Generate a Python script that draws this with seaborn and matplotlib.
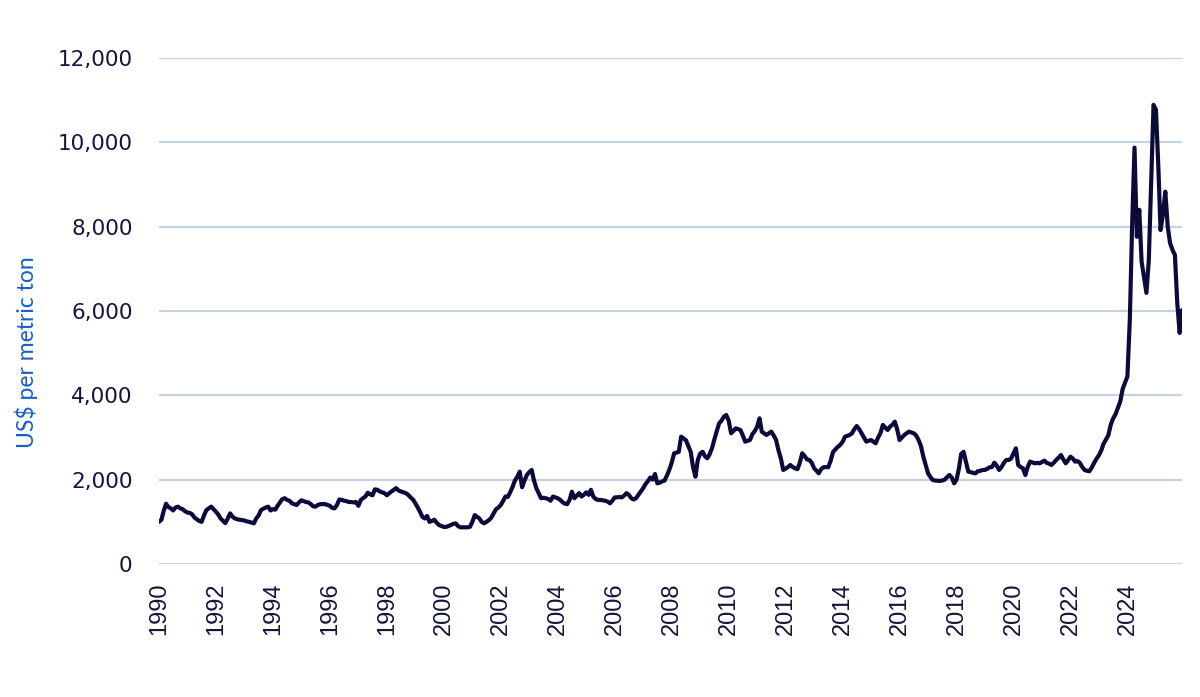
import pandas as pd
import numpy as np
import seaborn as sns
import matplotlib.pyplot as plt
import matplotlib.dates as mdates
from matplotlib.ticker import FuncFormatter

# monthly cocoa price, US$ per metric ton
price_1990s = [
    1000, 1050, 1250, 1430, 1350, 1320, 1270, 1340, 1360, 1320, 1300, 1250,
    1220, 1210, 1180, 1100, 1060, 1020, 1000, 1150, 1280, 1320, 1360, 1300,
    1240, 1170, 1080, 1020, 970, 1080, 1200, 1120, 1080, 1060, 1050, 1040,
    1030, 1010, 1000, 980, 965, 1080, 1150, 1280, 1310, 1340, 1360, 1270,
    1300, 1290, 1380, 1460, 1540, 1560, 1520, 1500, 1440, 1420, 1400, 1460,
    1510, 1490, 1470, 1460, 1420, 1370, 1360, 1400, 1420, 1420, 1420, 1400,
    1380, 1330, 1320, 1400, 1530, 1520, 1500, 1490, 1470, 1470, 1460, 1470,
    1380, 1520, 1560, 1600, 1690, 1650, 1630, 1770, 1760, 1720, 1700, 1680,
    1630, 1680, 1720, 1760, 1800, 1740, 1720, 1700, 1680, 1640, 1580, 1530,
    1440, 1340, 1240, 1120, 1080, 1140, 1000, 1020, 1050, 980, 925, 900,
]
price_2000s = [
    880, 880, 900, 925, 950, 965, 900, 870, 870, 870, 870, 880,
    1000, 1160, 1120, 1080, 1000, 965, 1000, 1040, 1100, 1200, 1300, 1340,
    1400, 1500, 1600, 1590, 1700, 1830, 1980, 2070, 2190, 1820, 1980, 2110,
    2180, 2230, 1990, 1800, 1680, 1560, 1570, 1560, 1540, 1500, 1600, 1580,
    1560, 1520, 1470, 1430, 1420, 1520, 1715, 1560, 1620, 1680, 1600, 1640,
    1700, 1640, 1760, 1600, 1540, 1520, 1520, 1510, 1500, 1480, 1440, 1500,
    1580, 1580, 1590, 1580, 1620, 1680, 1640, 1560, 1530, 1560, 1640, 1720,
    1800, 1900, 1960, 2050, 2000, 2135, 1913, 1930, 1960, 1976, 2100, 2230,
    2400, 2625, 2640, 2660, 3020, 2980, 2940, 2800, 2660, 2300, 2070, 2467,
    2620, 2660, 2560, 2507, 2600, 2744, 2950, 3150, 3337, 3400, 3495, 3534,
]
price_2010s = [
    3400, 3100, 3150, 3218, 3200, 3178, 3050, 2902, 2920, 2940, 3080, 3150,
    3257, 3455, 3139, 3100, 3060, 3100, 3139, 3050, 2940, 2700, 2507, 2230,
    2260, 2300, 2348, 2300, 2270, 2250, 2400, 2625, 2560, 2480, 2467, 2400,
    2270, 2210, 2150, 2250, 2293, 2300, 2293, 2450, 2660, 2720, 2780, 2822,
    2900, 3020, 3040, 3060, 3100, 3200, 3273, 3200, 3100, 3000, 2902, 2920,
    2940, 2900, 2862, 3000, 3100, 3297, 3240, 3178, 3257, 3300, 3376, 3200,
    2940, 3000, 3060, 3100, 3139, 3120, 3100, 3050, 2940, 2800, 2546, 2350,
    2150, 2060, 1993, 1980, 1976, 1970, 1980, 2000, 2060, 2111, 2050, 1913,
    2000, 2270, 2609, 2660, 2428, 2190, 2180, 2160, 2150, 2200, 2210, 2230,
    2230, 2260, 2293, 2300, 2404, 2330, 2230, 2300, 2400, 2467, 2467, 2500,
]
price_2020s = [
    2625, 2744, 2348, 2300, 2270, 2111, 2300, 2428, 2410, 2388, 2400, 2388,
    2420, 2451, 2400, 2380, 2348, 2400, 2467, 2520, 2585, 2480, 2388, 2460,
    2546, 2500, 2428, 2440, 2400, 2300, 2230, 2210, 2200, 2290, 2400, 2500,
    2580, 2700, 2850, 2950, 3050, 3300, 3450, 3550, 3700, 3850, 4150, 4300,
    4450, 5800, 8000, 9875, 7760, 8400, 7170, 6800, 6430, 7200, 9100, 10890,
    10770, 9400, 7920, 8300, 8830, 8000, 7610, 7450, 7330, 6200, 5480, 6020,
]
y_ticks = [0, 2000, 4000, 6000, 8000, 10000, 12000]

prices = price_1990s + price_2000s + price_2010s + price_2020s
df = pd.DataFrame({
    'date': pd.date_range('1990-01-01', periods=len(prices), freq='MS'),
    'price': prices,
})

navy = '#0B0B3B'
grid_col = '#C5D3E1'

sns.set_theme(style='white')
plt.rcParams['font.family'] = ['DejaVu Sans']

fig = plt.figure(figsize=(12, 6.97), dpi=100)
ax = fig.add_axes([159 / 1200, 1 - 564 / 697, 1023 / 1200, 506 / 697])

sns.lineplot(data=df, x='date', y='price', ax=ax, color=navy, linewidth=3.0)

ax.set_ylim(0, 12000)
ax.set_xlim(df['date'].iloc[0], df['date'].iloc[-1])
ax.set_yticks(y_ticks)
ax.yaxis.set_major_formatter(FuncFormatter(lambda v, p: f'{int(v):,}'))
ax.yaxis.grid(True, color=grid_col, linewidth=1.6)
ax.xaxis.grid(False)
ax.set_axisbelow(True)
for s in ax.spines.values():
    s.set_visible(False)

ax.xaxis.set_major_locator(mdates.YearLocator(2))
ax.xaxis.set_major_formatter(mdates.DateFormatter('%Y'))
ax.tick_params(axis='y', length=0, pad=19, labelsize=15.5, labelcolor='#14143C')
ax.tick_params(axis='x', length=0, pad=13, labelsize=17, labelcolor='#14143C',
               labelrotation=90)
for lbl in ax.get_xticklabels():
    lbl.set_fontfamily('Liberation Sans')

ax.set_xlabel('')
ax.set_ylabel('US$ per metric ton', fontsize=16.5, color='#1A5DC8', family='Lato')
ax.yaxis.set_label_coords(-0.118, 0.419)

fig.savefig('out.png', dpi=100)
